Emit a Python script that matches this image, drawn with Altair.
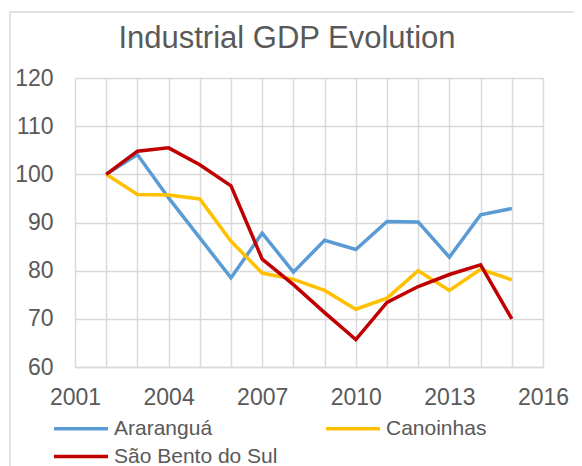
import altair as alt
import pandas as pd

years = list(range(2002, 2016))
ararangua = [100, 104.1, 95.1, 86.8, 78.5, 87.8, 79.7, 86.3, 84.4, 90.2, 90.1, 82.8, 91.6, 92.9]
canoinhas = [100, 95.8, 95.7, 94.9, 86.1, 79.5, 78.2, 75.9, 72.0, 74.3, 80.0, 75.9, 80.3, 78.1]
sao_bento = [100, 104.8, 105.5, 102.0, 97.6, 82.4, 77.1, 71.3, 65.7, 73.4, 76.7, 79.2, 81.2, 70.0]
series_names = ["Araranguá", "Canoinhas", "São Bento do Sul"]
series_colors = ["#5B9BD5", "#FFC000", "#C00000"]
x_ticks = list(range(2001, 2017))
y_ticks = [60, 70, 80, 90, 100, 110, 120]

rows = []
for name, vals in zip(series_names, [ararangua, canoinhas, sao_bento]):
    for y, v in zip(years, vals):
        rows.append({"Year": y, "Value": v, "Series": name})
df = pd.DataFrame(rows)

FONT = "Liberation Sans"
GREY = "#595959"

lines = alt.Chart(df).mark_line(strokeWidth=3.5).encode(
    x=alt.X("Year:Q", scale=alt.Scale(domain=[2001, 2016], nice=False, zero=False),
            axis=alt.Axis(values=x_ticks, title=None, labelExpr="(datum.value - 2001) % 3 == 0 ? datum.label : ''",
                          format="d", grid=True, gridColor="#d9d9d9", gridWidth=1.5, ticks=False,
                          domainColor="#d9d9d9", domainWidth=1.5, labelFontSize=23, labelColor=GREY,
                          labelFont=FONT, labelPadding=19, labelFlush=False, labelOverlap=False)),
    y=alt.Y("Value:Q", scale=alt.Scale(domain=[60, 120], nice=False, zero=False),
            axis=alt.Axis(values=y_ticks, title=None, grid=True, gridColor="#d9d9d9", gridWidth=1.5,
                          ticks=False, domain=False, labelFontSize=23, labelColor=GREY, labelFont=FONT,
                          labelPadding=22)),
    color=alt.Color("Series:N", scale=alt.Scale(domain=series_names, range=series_colors),
                    legend=alt.Legend(title=None, orient="none", legendX=-9.5, legendY=335, columns=2,
                                      direction="horizontal",
                                      symbolType="M-2,0H2", symbolSize=729, symbolStrokeWidth=3.5,
                                      labelFontSize=21, labelFont=FONT, labelColor=GREY, labelOffset=17.5,
                                      labelLimit=400, columnPadding=41, rowPadding=2, padding=0)),
)

frame = alt.Chart(pd.DataFrame({"a": [0]})).mark_rect(filled=False, stroke="#d9d9d9", strokeWidth=1.5).encode(
    x=alt.value(-65), y=alt.value(-66), x2=alt.value(640), y2=alt.value(500)
)

chart = alt.layer(frame, lines).properties(
    width=468, height=289,
    title=alt.TitleParams("Industrial GDP Evolution", fontSize=31, font=FONT, color=GREY, fontWeight="normal",
                          anchor="middle", frame="group", dx=-22, baseline="alphabetic", offset=-67.5),
    autosize=alt.AutoSizeParams(type="none"),
    padding={"left": 67, "top": 70, "right": 31, "bottom": 99},
).configure_view(stroke=None).configure(background="white")

chart.save("out.html", embed_options={"renderer": "svg", "actions": False})
